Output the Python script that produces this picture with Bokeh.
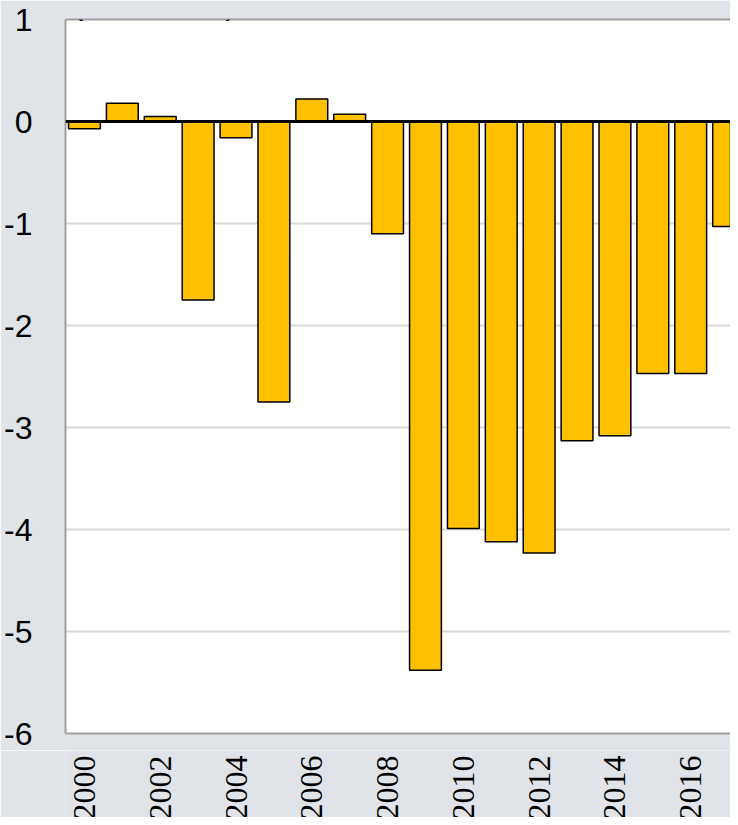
from bokeh.plotting import figure
from bokeh.layouts import column
from bokeh.models import (ColumnDataSource, Span, Label, LinearAxis, FixedTicker,
                          Range1d, CustomJSTickFormatter)
from bokeh.embed import file_html
from bokeh.resources import INLINE
import math

years = list(range(2000, 2018))
balance = [-0.07, 0.18, 0.05, -1.75, -0.16, -2.75, 0.22, 0.07, -1.10, -5.38,
           -3.99, -4.12, -4.23, -3.13, -3.08, -2.47, -2.47, -1.03]
y_ticks = [1, 0, -1, -2, -3, -4, -5, -6]
x_ticks = [2000, 2002, 2004, 2006, 2008, 2010, 2012, 2014, 2016]
x_tick_labels = ["2000", "2002", "2004", "2006", "2008", "2010", "2012", "2014", "2016"]
title_text = "(% of GDP)"

BG = "#e0e3e8"
FONT = "Liberation Sans"

src = ColumnDataSource(dict(x=years, top=balance))
xr = Range1d(1999.5, 2017.05)

p = figure(width=730, height=750, output_backend="svg", toolbar_location=None,
           x_range=xr, y_range=Range1d(-6, 1),
           min_border_left=65, min_border_top=19, min_border_bottom=17, min_border_right=0)
p.background_fill_color = "white"
p.border_fill_color = BG
p.outline_line_color = None

p.vbar(x="x", top="top", bottom=0, width=0.84, source=src,
       fill_color="#FFC000", line_color="black", line_width=1.5)

p.add_layout(Span(location=0, dimension="width", line_color="black", line_width=3))

fmt = CustomJSTickFormatter(code="return String(tick);")

# bottom axis: line only
p.xaxis.ticker = FixedTicker(ticks=[])
p.xaxis.major_tick_line_color = None
p.xaxis.minor_tick_line_color = None
p.xaxis.major_label_standoff = 0
p.xaxis.axis_line_color = "#a0a0a0"
p.xaxis.axis_line_width = 2

p.yaxis.ticker = FixedTicker(ticks=y_ticks)
p.yaxis.formatter = fmt
p.yaxis.major_label_text_font = FONT
p.yaxis.major_label_text_font_size = "32px"
p.yaxis.major_label_text_color = "black"
p.yaxis.major_tick_line_color = None
p.yaxis.minor_tick_line_color = None
p.yaxis.major_label_standoff = 27
p.yaxis.axis_line_color = "#a0a0a0"
p.yaxis.axis_line_width = 2

top_axis = LinearAxis(ticker=FixedTicker(ticks=[]), major_tick_line_color=None,
                      minor_tick_line_color=None, axis_line_color="#a0a0a0",
                      axis_line_width=2, major_label_standoff=0)
p.add_layout(top_axis, "above")

p.xgrid.grid_line_color = None
p.ygrid.ticker = FixedTicker(ticks=y_ticks)
p.ygrid.grid_line_color = "#d9d9d9"
p.ygrid.grid_line_width = 2

p.add_layout(Label(x=1999.685, y=1.157, text=title_text, text_font=FONT,
                   text_font_size="32px", text_color="black",
                   text_baseline="alphabetic"))

# strip below the plot carrying the year labels (cut off at the bottom like the source)
q = figure(width=730, height=67, output_backend="svg", toolbar_location=None,
           x_range=xr, y_range=Range1d(0, 67),
           min_border_left=65, min_border_top=0, min_border_bottom=0, min_border_right=0)
q.axis.visible = False
q.grid.visible = False
q.outline_line_color = None
q.background_fill_color = BG
q.border_fill_color = BG
lab_src = ColumnDataSource(dict(x=x_ticks, y=[62] * len(x_ticks), text=x_tick_labels))
q.text(x="x", y="y", text="text", source=lab_src, angle=math.pi / 2,
       text_align="right", text_baseline="middle", text_font_size="32px",
       text_color="black", text_font="Liberation Sans")

layout = column(p, q, spacing=0)
open("out.html", "w").write(file_html(layout, INLINE))
